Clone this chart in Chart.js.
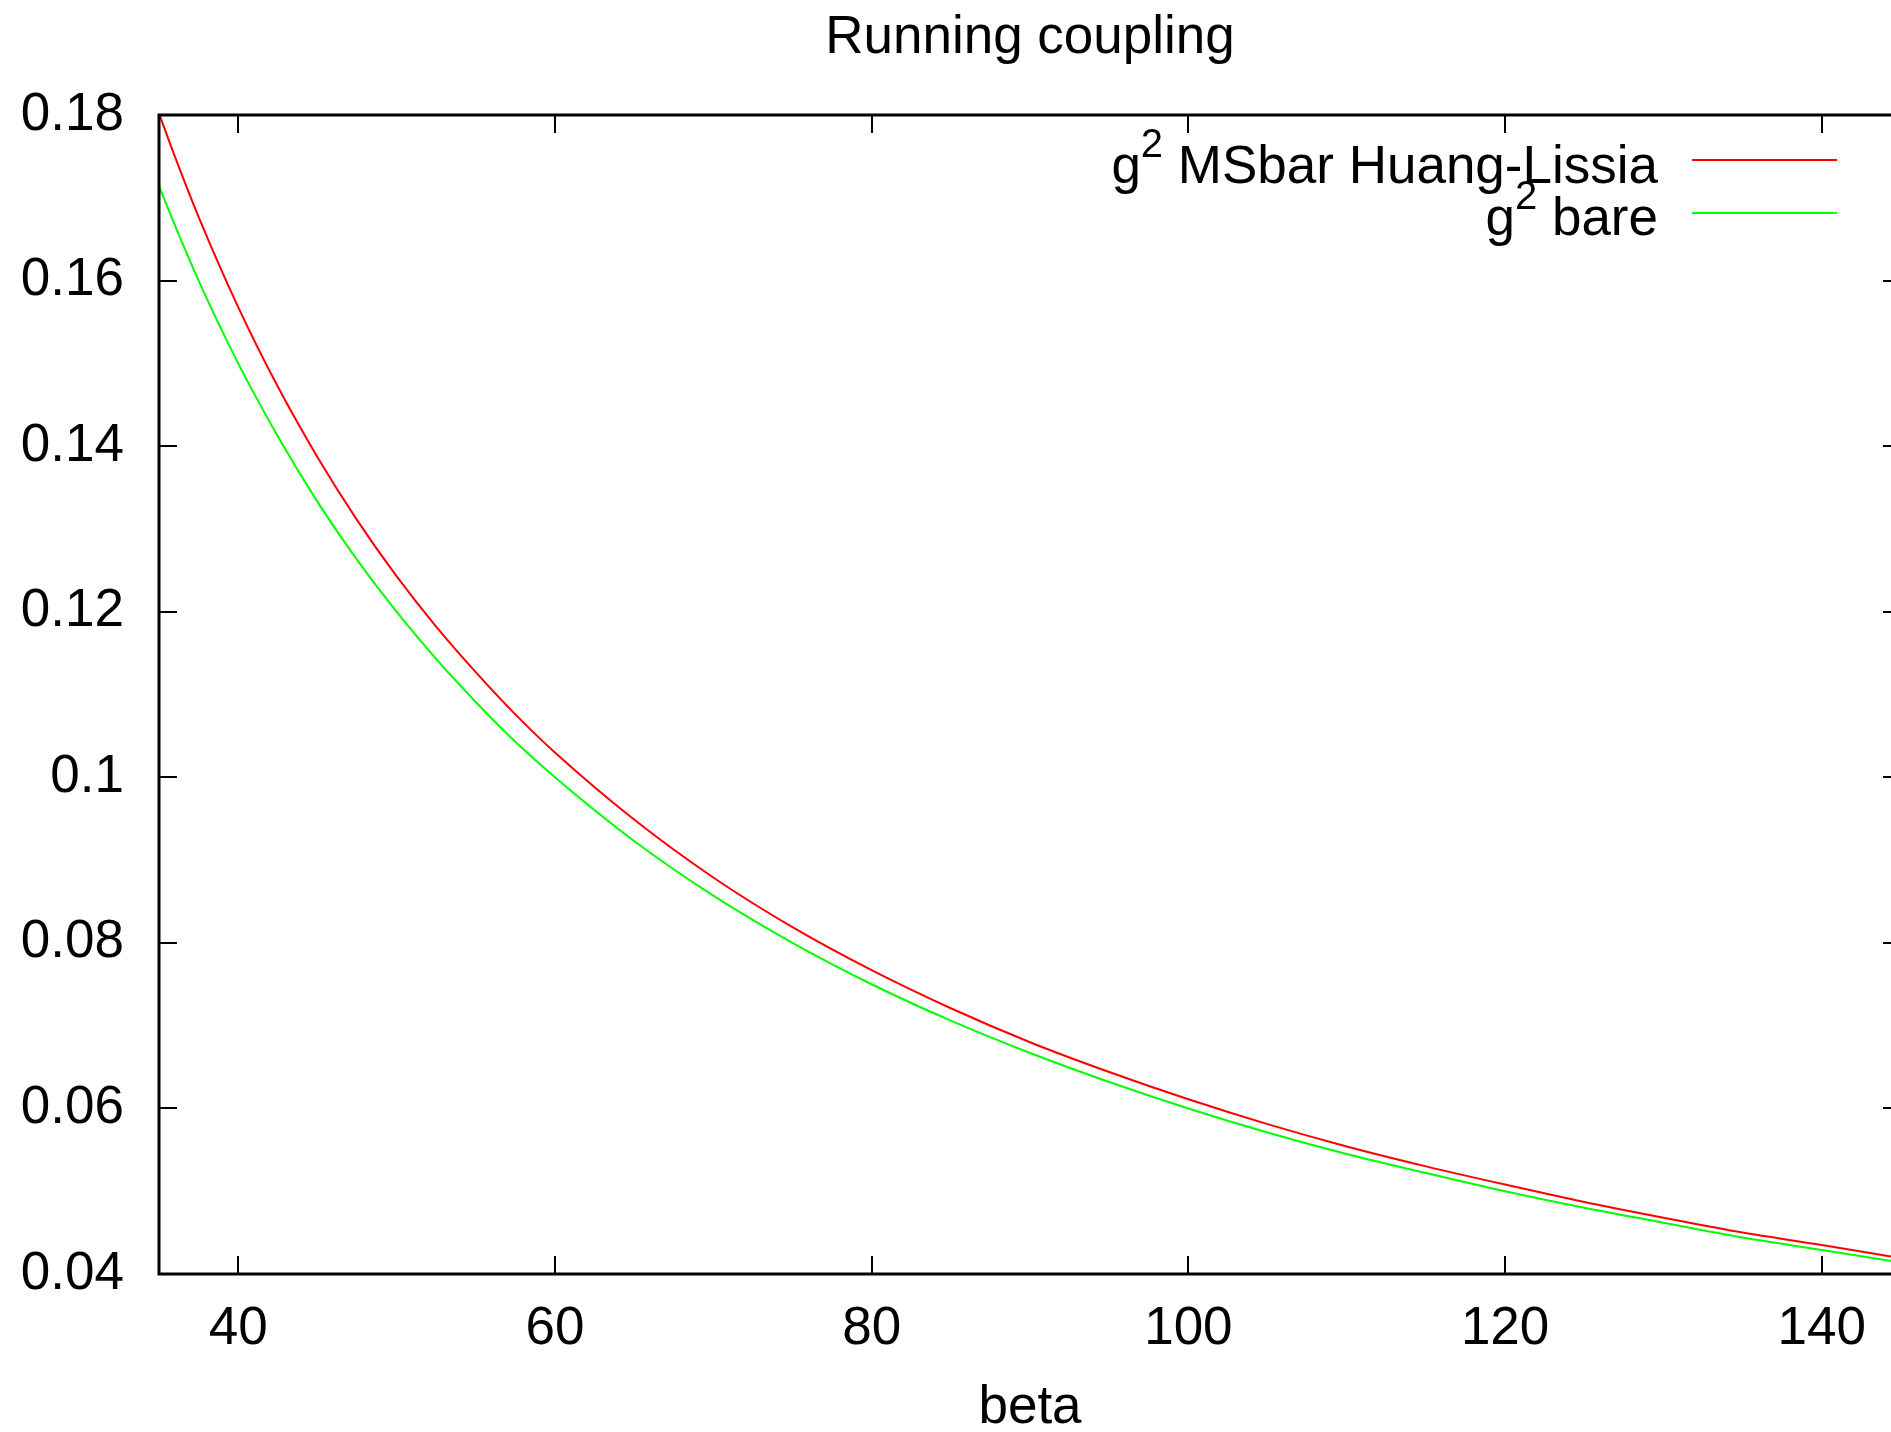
<!DOCTYPE html>
<html><head><meta charset="utf-8">
<script src="https://cdn.jsdelivr.net/npm/chart.js@4"></script>
<style>
html,body{margin:0;padding:0;overflow:hidden;background:#fff;width:1891px;height:1432px}
#wrap{position:absolute;left:0;top:0;width:1920px;height:1432px}
</style></head><body><div id="wrap"><canvas id="c" width="1920" height="1432"></canvas></div>
<script>
const chartTitle = "Running coupling";
const xTitle = "beta";
const seriesLabels = ["g^2 MSbar Huang-Lissia", "g^2 bare"];
const seriesColors = ["#ff0000", "#00ff00"];
const betaValues = [35,36,37.5,40,42.5,45,47.5,50,52.5,55,57.5,60,65,70,75,80,85,90,95,100,105,110,115,120,125,130,135,140,145];
const g2MSbar = [0.1802,0.1750,0.1677,0.1568,0.1472,0.1387,0.1311,0.1243,0.1182,0.1127,0.1076,0.1030,0.0949,0.0879,0.0819,0.0767,0.0721,0.0680,0.0644,0.0611,0.0581,0.0554,0.0530,0.0508,0.0487,0.0468,0.0450,0.0435,0.0419];
const g2Bare = [0.1714,0.1667,0.1600,0.1500,0.1412,0.1333,0.1263,0.1200,0.1143,0.1091,0.1043,0.1000,0.0923,0.0857,0.0800,0.0750,0.0706,0.0667,0.0632,0.0600,0.0571,0.0545,0.0522,0.0500,0.0480,0.0462,0.0444,0.0429,0.0414];
const xTickValues = [40,60,80,100,120,140];
const xTickLabels = ["40","60","80","100","120","140"];
const yTickValues = [0.04,0.06,0.08,0.1,0.12,0.14,0.16,0.18];
const yTickLabels = ["0.04","0.06","0.08","0.1","0.12","0.14","0.16","0.18"];

const FONT = "'Liberation Sans', Arial, Helvetica, sans-serif";
const FS = 53;

function richParts(label){
  const m = label.match(/^(.*?)\^(\S)(.*)$/);
  if(!m) return [{t:label}];
  return [{t:m[1]},{t:m[2],sup:true},{t:m[3]}];
}
function drawRich(ctx, label, rightX, baseline){
  const parts = richParts(label);
  const big = FS+"px "+FONT, small = Math.round(FS*0.75)+"px "+FONT;
  let total = 0;
  parts.forEach(p=>{ctx.font = p.sup?small:big; p.w = ctx.measureText(p.t).width; total += p.w;});
  let x = rightX - total;
  ctx.textAlign = "left"; ctx.textBaseline = "alphabetic"; ctx.fillStyle = "#000";
  parts.forEach(p=>{ctx.font = p.sup?small:big; ctx.fillText(p.t, x, p.sup?baseline-26:baseline); x += p.w;});
}

const framePlugin = {
  id: "frame",
  afterDatasetsDraw(chart){
    const ctx = chart.ctx, a = chart.chartArea;
    const xs = chart.scales.x, ys = chart.scales.y;
    ctx.save();
    ctx.strokeStyle = "#000";
    ctx.lineWidth = 2;
    const TL = 18;
    xTickValues.forEach(v=>{
      const px = Math.round(xs.getPixelForValue(v));
      ctx.beginPath();
      ctx.moveTo(px, a.bottom); ctx.lineTo(px, a.bottom - TL);
      ctx.moveTo(px, a.top); ctx.lineTo(px, a.top + TL);
      ctx.stroke();
    });
    yTickValues.forEach(v=>{
      const py = Math.round(ys.getPixelForValue(v));
      ctx.beginPath();
      ctx.moveTo(a.left, py); ctx.lineTo(a.left + TL, py);
      ctx.moveTo(a.right, py); ctx.lineTo(a.right - TL, py);
      ctx.stroke();
    });
    ctx.lineWidth = 3;
    ctx.strokeRect(a.left, a.top, a.right - a.left, a.bottom - a.top);
    const cx = (a.left + a.right)/2;
    ctx.fillStyle = "#000";
    ctx.font = FS+"px "+FONT;
    ctx.textAlign = "center"; ctx.textBaseline = "alphabetic";
    ctx.fillText(chartTitle, cx, 53);
    ctx.fillText(xTitle, cx, 1423);
    const textRight = 1658, lineL = 1692, lineR = 1837;
    const baselines = [183, 235], lineYs = [160, 213];
    seriesLabels.forEach((lab,i)=>{
      drawRich(ctx, lab, textRight, baselines[i]);
      ctx.strokeStyle = seriesColors[i]; ctx.lineWidth = 2;
      ctx.beginPath(); ctx.moveTo(lineL, lineYs[i]); ctx.lineTo(lineR, lineYs[i]); ctx.stroke();
    });
    ctx.restore();
  }
};

const toPts = ys => betaValues.map((b,i)=>({x:b, y:ys[i]}));

new Chart(document.getElementById("c"), {
  type: "line",
  data: {
    datasets: [
      {label: seriesLabels[0], data: toPts(g2MSbar), borderColor: seriesColors[0], borderWidth: 2, pointRadius: 0, cubicInterpolationMode: "monotone", fill: false},
      {label: seriesLabels[1], data: toPts(g2Bare), borderColor: seriesColors[1], borderWidth: 2, pointRadius: 0, cubicInterpolationMode: "monotone", fill: false}
    ]
  },
  options: {
    responsive: false,
    devicePixelRatio: 1,
    animation: false,
    events: [],
    layout: {padding: {top: 115, right: 19, left: 0, bottom: 0}},
    plugins: {legend: {display: false}, title: {display: false}, tooltip: {enabled: false}},
    scales: {
      x: {
        type: "linear", min: 35, max: 145,
        afterBuildTicks: s => { s.ticks = xTickValues.map(v=>({value:v})); },
        afterFit: s => { s.height = 158; },
        grid: {display: false, drawTicks: false},
        border: {display: false},
        ticks: {
          callback: v => { const i = xTickValues.indexOf(v); return i>=0 ? xTickLabels[i] : ""; },
          font: {family: FONT, size: FS}, color: "#000", padding: 24, maxRotation: 0, autoSkip: false
        }
      },
      y: {
        type: "linear", min: 0.04, max: 0.18,
        afterBuildTicks: s => { s.ticks = yTickValues.map(v=>({value:v})); },
        afterFit: s => { s.width = 159; },
        grid: {display: false, drawTicks: false},
        border: {display: false},
        ticks: {
          callback: v => { const i = yTickValues.findIndex(t=>Math.abs(t-v)<1e-9); return i>=0 ? yTickLabels[i] : ""; },
          font: {family: FONT, size: FS}, color: "#000", padding: 35, autoSkip: false
        }
      }
    }
  },
  plugins: [framePlugin]
});
</script></body></html>
